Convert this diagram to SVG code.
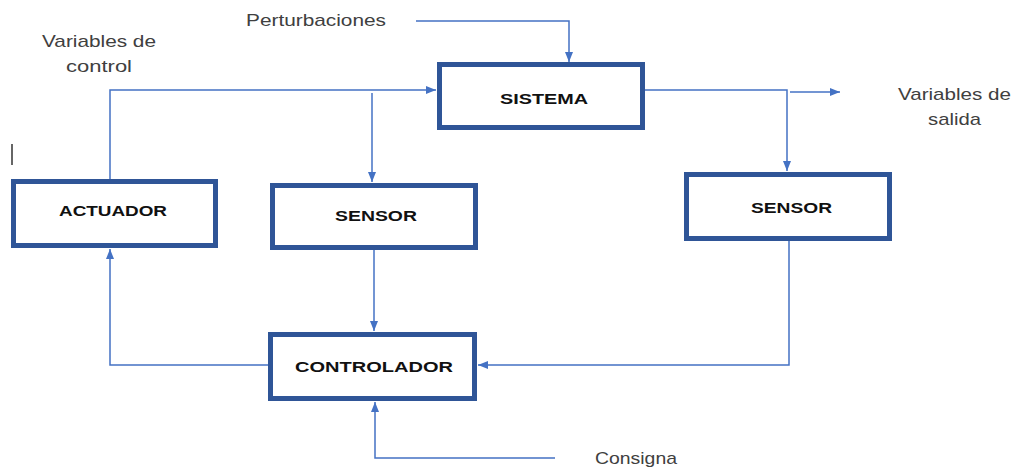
<svg xmlns="http://www.w3.org/2000/svg" width="1014" height="467" viewBox="0 0 1014 467">
<style>
.box{fill:#fff;stroke:#2F5597;stroke-width:5}
.lbl{font-family:"Liberation Sans",Arial,sans-serif;font-weight:bold;font-size:15px;fill:#111}
.txt{font-family:"Liberation Sans",Arial,sans-serif;font-size:17px;fill:#404040}
.con{fill:none;stroke:#4472C4;stroke-width:1.5}
</style>
<defs>
<marker id="ah" markerWidth="10" markerHeight="8" refX="10" refY="4" orient="auto" markerUnits="userSpaceOnUse">
<path d="M0,0 L10,4 L0,8 Z" fill="#4472C4"/>
</marker>
</defs>
<rect width="1014" height="467" fill="#fff"/>
<g id="connectors">
<path class="con" d="M416,21 H569 V62" marker-end="url(#ah)"/>
<path class="con" d="M110,179 V90 H436" marker-end="url(#ah)"/>
<path class="con" d="M372,93 V182" marker-end="url(#ah)"/>
<path class="con" d="M645,90 H787 V171" marker-end="url(#ah)"/>
<path class="con" d="M790,92 H840" marker-end="url(#ah)"/>
<path class="con" d="M374,250 V331" marker-end="url(#ah)"/>
<path class="con" d="M789,241 V365 H478" marker-end="url(#ah)"/>
<path class="con" d="M268,365 H110 V249" marker-end="url(#ah)"/>
<path class="con" d="M555,458 H375 V402" marker-end="url(#ah)"/>
</g>
<g id="sistema">
<rect class="box" x="439.5" y="64.5" width="203" height="63"/>
<text class="lbl" x="500" y="104" textLength="88" lengthAdjust="spacingAndGlyphs">SISTEMA</text>
</g>
<g id="actuador">
<rect class="box" x="13.5" y="181.5" width="202" height="64"/>
<text class="lbl" x="59" y="216" textLength="108" lengthAdjust="spacingAndGlyphs">ACTUADOR</text>
</g>
<g id="sensor1">
<rect class="box" x="272.5" y="185.5" width="203" height="62"/>
<text class="lbl" x="335" y="221" textLength="82" lengthAdjust="spacingAndGlyphs">SENSOR</text>
</g>
<g id="sensor2">
<rect class="box" x="686.5" y="174.5" width="203" height="64"/>
<text class="lbl" x="751" y="213" textLength="81" lengthAdjust="spacingAndGlyphs">SENSOR</text>
</g>
<g id="controlador">
<rect class="box" x="270.5" y="334.5" width="204" height="64"/>
<text class="lbl" x="295" y="372" textLength="158" lengthAdjust="spacingAndGlyphs">CONTROLADOR</text>
</g>
<g id="labels">
<text class="txt" x="246" y="26" textLength="140" lengthAdjust="spacingAndGlyphs">Perturbaciones</text>
<text class="txt" x="42" y="47" textLength="114" lengthAdjust="spacingAndGlyphs">Variables de</text>
<text class="txt" x="66" y="72" textLength="66" lengthAdjust="spacingAndGlyphs">control</text>
<text class="txt" x="898" y="100" textLength="113" lengthAdjust="spacingAndGlyphs">Variables de</text>
<text class="txt" x="928" y="125" textLength="53" lengthAdjust="spacingAndGlyphs">salida</text>
<text class="txt" x="595" y="464" textLength="82" lengthAdjust="spacingAndGlyphs">Consigna</text>
</g>
<line x1="12" y1="144" x2="12" y2="165" stroke="#333" stroke-width="1.5"/>
</svg>
